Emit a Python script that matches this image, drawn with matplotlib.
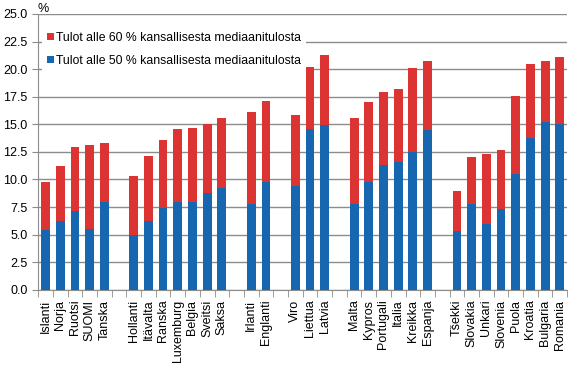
import matplotlib
matplotlib.use("Agg")
import matplotlib.pyplot as plt
import numpy as np

plt.rcParams['font.family'] = ['Liberation Sans', 'DejaVu Sans']

groups = [
    ["Islanti", "Norja", "Ruotsi", "SUOMI", "Tanska"],
    ["Hollanti", "Itävalta", "Ranska", "Luxemburg", "Belgia", "Sveitsi", "Saksa"],
    ["Irlanti", "Englanti"],
    ["Viro", "Liettua", "Latvia"],
    ["Malta", "Kypros", "Portugali", "Italia", "Kreikka", "Espanja"],
    ["Tšekki", "Slovakia", "Unkari", "Slovenia", "Puola", "Kroatia", "Bulgaria", "Romania"],
]
# alle 50 % mediaanitulosta
below50 = [5.4, 6.2, 7.1, 5.5, 8.0,
           5.0, 6.2, 7.4, 8.0, 8.0, 8.8, 9.2,
           7.8, 9.8,
           9.4, 14.6, 14.9,
           7.8, 9.8, 11.3, 11.6, 12.5, 14.5,
           5.3, 7.8, 6.0, 7.3, 10.5, 13.8, 15.2, 15.0]
# alle 60 % mediaanitulosta
below60 = [9.8, 11.2, 12.9, 13.1, 13.3,
           10.3, 12.1, 13.6, 14.6, 14.7, 15.0, 15.6,
           16.1, 17.1,
           15.8, 20.2, 21.3,
           15.6, 17.0, 17.9, 18.2, 20.1, 20.7,
           9.0, 12.0, 12.3, 12.7, 17.6, 20.5, 20.7, 21.1]

red = "#DC3333"
blue = "#1767B0"

# slot positions with an empty slot between groups
labels, pos = [], []
slot = 0
for g in groups:
    for name in g:
        labels.append(name)
        pos.append(slot)
        slot += 1
    slot += 1
nslots = slot - 1
pos = np.array(pos)
b50 = np.array(below50)
b60 = np.array(below60)

fig = plt.figure(figsize=(5.7, 3.66), dpi=100)
ax = fig.add_axes([0.067, 0.208, 0.928, 0.754])

ax.bar(pos, b50, width=0.6, color=blue, zorder=3,
       label="Tulot alle 50 % kansallisesta mediaanitulosta")
ax.bar(pos, b60 - b50, bottom=b50, width=0.6, color=red, zorder=3,
       label="Tulot alle 60 % kansallisesta mediaanitulosta")

ax.set_xlim(-0.5, nslots - 0.5)
ax.set_ylim(0, 25)
ax.set_yticks(np.arange(0, 25.1, 2.5))
ax.set_yticklabels([f"{v:.1f}" for v in np.arange(0, 25.1, 2.5)], fontsize=9)
ax.yaxis.grid(True, color="#8c8c8c", linewidth=1, zorder=0)
ax.tick_params(axis="y", length=4, color="#8c8c8c")

ax.set_xticks(pos)
ax.set_xticklabels(labels, rotation=90, fontsize=9)
ax.set_xticks(np.arange(-0.5, nslots, 1), minor=True)
ax.tick_params(axis="x", which="major", length=0, pad=7)
ax.tick_params(axis="x", which="minor", length=5, color="#8c8c8c")

for s in ["top", "right"]:
    ax.spines[s].set_visible(False)
for s in ["left", "bottom"]:
    ax.spines[s].set_color("#8c8c8c")

h, l = ax.get_legend_handles_labels()
leg = ax.legend(h[::-1], l[::-1], loc="upper left", bbox_to_anchor=(-0.005, 0.975),
                fontsize=8.8, frameon=True, facecolor="white", edgecolor="none",
                framealpha=1, fancybox=False, handlelength=0.6, handleheight=0.6,
                handletextpad=0.2, labelspacing=0.9, borderpad=0.4)
leg.set_zorder(5)

fig.text(0.065, 0.975, "%", fontsize=9, ha="left", va="center")

fig.savefig("out.png", dpi=100)
